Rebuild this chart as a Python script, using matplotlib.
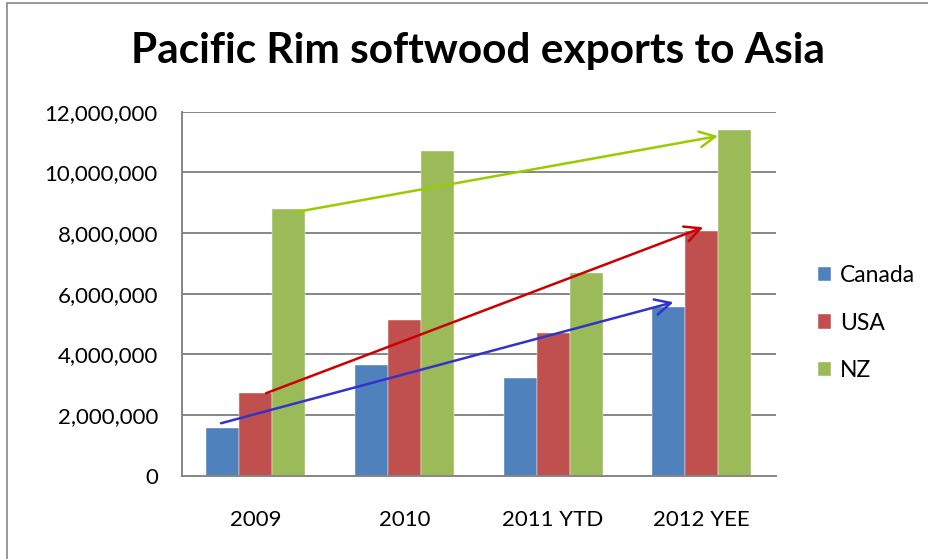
import numpy as np
import matplotlib.pyplot as plt
from matplotlib.patches import Rectangle

categories = ['2009', '2010', '2011 YTD', '2012 YEE']
canada = [1560000, 3660000, 3210000, 5570000]
usa = [2720000, 5130000, 4690000, 8070000]
nz = [8780000, 10700000, 6670000, 11400000]
series_names = ['Canada', 'USA', 'NZ']
series_colors = ['#4F81BD', '#C0504D', '#9BBB59']
yticks = [0, 2000000, 4000000, 6000000, 8000000, 10000000, 12000000]

# trend arrows drawn on the chart: (x0, y0, x1, y1) in category / value units
arrows = [
    (-0.234, 1730000, 2.81, 5720000),
    (0.069, 2720000, 3.01, 8190000),
    (0.275, 8700000, 3.11, 11200000),
]
arrow_colors = ['#3333CC', '#CC0000', '#99CC00']

plt.rcParams['font.family'] = ['Lato', 'DejaVu Sans']

fig = plt.figure(figsize=(9.29, 5.59), dpi=100)
fig.patches.append(Rectangle((7 / 929, -0.1), 1.2, 1.1 - 3 / 559, transform=fig.transFigure,
                             fill=False, edgecolor='#888888', linewidth=1.2))
ax = fig.add_axes([0.1954, 0.149, 0.6399, 0.651])

x = np.arange(len(categories))
w = 0.222
for i, (vals, name, col) in enumerate(zip([canada, usa, nz], series_names, series_colors)):
    ax.bar(x + (i - 1) * w, vals, width=w, color=col, label=name, zorder=2,
           edgecolor='white', linewidth=0.3)

for (x0, y0, x1, y1), col in zip(arrows, arrow_colors):
    ax.annotate('', xy=(x1, y1), xytext=(x0, y0),
                arrowprops=dict(arrowstyle='->', color=col, lw=1.8,
                                mutation_scale=28, shrinkA=0, shrinkB=0), zorder=3)

ax.set_xlim(-0.5, 3.5)
ax.set_ylim(0, 12000000)
ax.set_yticks(yticks)
ax.set_yticklabels([f'{v:,}' for v in yticks])
ax.set_xticks(x)
ax.set_xticklabels(categories)
ax.yaxis.grid(True, color='#868686', linewidth=1.4, zorder=0)
ax.set_axisbelow(True)
for s in ['top', 'right']:
    ax.spines[s].set_visible(False)
for s in ['left', 'bottom']:
    ax.spines[s].set_color('#868686')
    ax.spines[s].set_linewidth(1.4)
ax.tick_params(axis='both', length=0, labelsize=16, colors='black')
ax.tick_params(axis='y', pad=17)
ax.tick_params(axis='x', pad=25)

fig.text(0.514, 1 - 63.5 / 559, 'Pacific Rim softwood exports to Asia', ha='center',
         va='baseline', fontsize=30.5, fontweight='bold')

fig.legend(loc='center left', bbox_to_anchor=(0.858, 0.422), frameon=False, fontsize=16.5,
           handlelength=0.57, handleheight=0.57, labelspacing=1.15, handletextpad=0.4)

fig.savefig('out.png', dpi=100)
